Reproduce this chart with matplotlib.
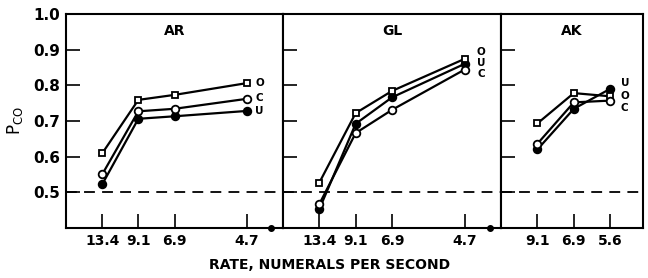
import matplotlib
matplotlib.use('Agg')
import matplotlib.pyplot as plt

# Rate levels (numerals per second), equally spaced on the x axis
rates = [13.4, 9.1, 6.9, 5.6, 4.7]
rate_labels = ['13.4', '9.1', '6.9', '5.6', '4.7']

# AR
ar_rates = [13.4, 9.1, 6.9, 4.7]
ar_o = [0.609, 0.759, 0.773, 0.806]
ar_c = [0.550, 0.727, 0.734, 0.762]
ar_u = [0.522, 0.706, 0.713, 0.728]

# GL
gl_rates = [13.4, 9.1, 6.9, 4.7]
gl_o = [0.527, 0.722, 0.784, 0.874]
gl_c = [0.467, 0.666, 0.731, 0.844]
gl_u = [0.453, 0.692, 0.766, 0.860]

# AK
ak_rates = [9.1, 6.9, 5.6]
ak_o = [0.693, 0.778, 0.769]
ak_c = [0.636, 0.752, 0.757]
ak_u = [0.620, 0.734, 0.790]

chance = 0.5

fig = plt.figure(figsize=(6.48, 2.78), dpi=100)
bot, h = 0.18, 0.77
ax1 = fig.add_axes([66 / 648, bot, 217 / 648, h])
ax2 = fig.add_axes([283 / 648, bot, 218 / 648, h])
ax3 = fig.add_axes([501 / 648, bot, 142 / 648, h])


def pos(rs):
    return [rates.index(r) for r in rs]


def panel(ax, name, rs, o, c, u, xlim, labels):
    x = pos(rs)
    ax.plot(x, o, '-', color='black', lw=1.6, marker='s', ms=5,
            mfc='white', mec='black', mew=1.3, zorder=3)
    ax.plot(x, c, '-', color='black', lw=1.6, marker='o', ms=5.5,
            mfc='white', mec='black', mew=1.3, zorder=3)
    ax.plot(x, u, '-', color='black', lw=1.6, marker='o', ms=5.5,
            mfc='black', mec='black', mew=1.3, zorder=2)
    ax.axhline(chance, color='black', lw=1.3, dashes=(6, 4), zorder=1)
    ax.set_xlim(*xlim)
    ax.set_ylim(0.40, 1.0)
    ax.set_xticks(x)
    ax.set_xticklabels([rate_labels[i] for i in x], fontsize=10, fontweight='bold')
    ax.set_yticks([0.5, 0.6, 0.7, 0.8, 0.9, 1.0])
    ax.tick_params(axis='both', direction='in', length=10, width=1.2,
                   colors='black')
    ax.tick_params(axis='x', pad=4)
    ax.tick_params(axis='y', right=False)
    for s in ax.spines.values():
        s.set_linewidth(1.5)
    ax.text(0.5, 0.92, name, transform=ax.transAxes, ha='center', va='center',
            fontsize=10, fontweight='bold')
    for txt, xx, yy in labels:
        ax.text(xx, yy, txt, ha='center', va='center', fontsize=7.5,
                fontweight='bold')


panel(ax1, 'AR', ar_rates, ar_o, ar_c, ar_u, (-1, 5),
      [('O', 4.35, 0.806), ('C', 4.35, 0.764), ('U', 4.35, 0.727)])
panel(ax2, 'GL', gl_rates, gl_o, gl_c, gl_u, (-1, 5),
      [('O', 4.45, 0.893), ('U', 4.45, 0.862), ('C', 4.45, 0.831)])
panel(ax3, 'AK', ak_rates, ak_o, ak_c, ak_u, (0, 3.9),
      [('U', 3.4, 0.805), ('O', 3.4, 0.771), ('C', 3.4, 0.737)])

ax1.set_yticklabels(['0.5', '0.6', '0.7', '0.8', '0.9', '1.0'],
                    fontsize=11, fontweight='bold')
ax1.tick_params(axis='y', pad=4)
ax2.set_yticklabels([])
ax3.set_yticklabels([])

# small break marks on the baseline
ax1.plot([4.68], [0.40], 'o', color='black', ms=4, clip_on=False, zorder=5)
ax2.plot([4.70], [0.40], 'o', color='black', ms=4, clip_on=False, zorder=5)

ax1.set_ylabel(r'$\mathrm{P_{CO}}$', fontsize=12, labelpad=6)
fig.text(330 / 648, 1 - 265 / 278, 'RATE, NUMERALS PER SECOND', ha='center',
         va='center', fontsize=10, fontweight='bold')

fig.savefig('out.png', dpi=100)
